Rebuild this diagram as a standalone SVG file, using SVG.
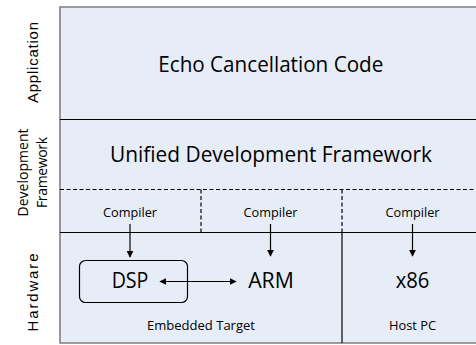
<svg xmlns="http://www.w3.org/2000/svg" width="476" height="345" viewBox="0 0 476 345">
  <style>
    text { fill: #000; text-anchor: middle; }
    .big { font-family: "Open Sans", "Liberation Sans", sans-serif; font-size: 21px; }
    .side { font-family: "Open Sans", "Liberation Sans", sans-serif; font-size: 14px; }
    .sideA { font-family: "Liberation Sans", Arial, sans-serif; font-size: 15px; }
    .small { font-family: "Open Sans", "Liberation Sans", sans-serif; font-size: 12.5px; }
    .solid { stroke: #000; stroke-width: 1.2; fill: none; }
    .dash { stroke: #000; stroke-width: 1.2; fill: none; stroke-dasharray: 4 2.5; }
    .arrow { stroke: #000; stroke-width: 1.2; fill: none; }
  </style>
  <defs>
    <marker id="head" viewBox="0 0 10 10" refX="9" refY="5" markerWidth="7" markerHeight="7" markerUnits="userSpaceOnUse" orient="auto-start-reverse">
      <path d="M0,0 L10,5 L0,10 z" fill="#000"/>
    </marker>
  </defs>

  <!-- background panel -->
  <rect x="60" y="7" width="420" height="336" fill="#E7EDF7"/>
  <path d="M476,7 H60 V343 H476" stroke="#7F7F7F" stroke-width="1.6" fill="none"/>

  <!-- layer dividers -->
  <g id="dividers">
    <line class="solid" x1="60" y1="119.5" x2="476" y2="119.5"/>
    <line class="dash" x1="60" y1="189.5" x2="476" y2="189.5"/>
    <line class="solid" x1="60" y1="232.5" x2="476" y2="232.5"/>
    <line class="dash" x1="201" y1="189.5" x2="201" y2="232.5"/>
    <line class="dash" x1="342" y1="189.5" x2="342" y2="232.5"/>
    <line class="solid" x1="342" y1="232.5" x2="342" y2="343"/>
  </g>

  <!-- side labels -->
  <g id="labels">
    <text class="sideA" transform="translate(32,62.5) rotate(-90)" dominant-baseline="central" textLength="81" lengthAdjust="spacing">Application</text>
    <text class="side" transform="translate(22.5,172.5) rotate(-90)" dominant-baseline="central" textLength="88" lengthAdjust="spacing">Development</text>
    <text class="side" transform="translate(41.5,172.5) rotate(-90)" dominant-baseline="central" textLength="71" lengthAdjust="spacing">Framework</text>
    <text class="sideA" transform="translate(32,292.5) rotate(-90)" dominant-baseline="central" textLength="78" lengthAdjust="spacing">Hardware</text>
  </g>

  <g id="app">
    <text class="big" x="270.8" y="71.5" textLength="225" lengthAdjust="spacingAndGlyphs">Echo Cancellation Code</text>
  </g>
  <g id="framework">
    <text class="big" x="271" y="161.5" textLength="322" lengthAdjust="spacingAndGlyphs">Unified Development Framework</text>
  </g>

  <g id="compiler1"><text class="small" x="130" y="217" textLength="54" lengthAdjust="spacingAndGlyphs">Compiler</text></g>
  <g id="compiler2"><text class="small" x="270.5" y="217" textLength="54" lengthAdjust="spacingAndGlyphs">Compiler</text></g>
  <g id="compiler3"><text class="small" x="412.5" y="217" textLength="54" lengthAdjust="spacingAndGlyphs">Compiler</text></g>

  <g id="dsp">
    <rect x="79.5" y="260.5" width="108" height="42" rx="6" fill="none" stroke="#000" stroke-width="1.2"/>
    <text class="big" x="130" y="288.3" textLength="36.7" lengthAdjust="spacingAndGlyphs">DSP</text>
  </g>
  <g id="arm"><text class="big" x="271" y="288.3" textLength="45.7" lengthAdjust="spacingAndGlyphs">ARM</text></g>
  <g id="x86"><text class="big" x="412.5" y="288.3" textLength="33.7" lengthAdjust="spacingAndGlyphs">x86</text></g>

  <g id="embedded"><text class="small" x="201" y="330" textLength="108" lengthAdjust="spacingAndGlyphs">Embedded Target</text></g>
  <g id="host"><text class="small" x="412.5" y="330" textLength="47" lengthAdjust="spacingAndGlyphs">Host PC</text></g>

  <!-- connectors -->
  <g id="connectors">
    <line class="arrow" x1="130" y1="224" x2="130" y2="257" marker-end="url(#head)"/>
    <line class="arrow" x1="270.5" y1="224" x2="270.5" y2="256" marker-end="url(#head)"/>
    <line class="arrow" x1="412.5" y1="224" x2="412.5" y2="256" marker-end="url(#head)"/>
    <line class="arrow" x1="160" y1="281.5" x2="236" y2="281.5" marker-start="url(#head)" marker-end="url(#head)"/>
  </g>
</svg>
